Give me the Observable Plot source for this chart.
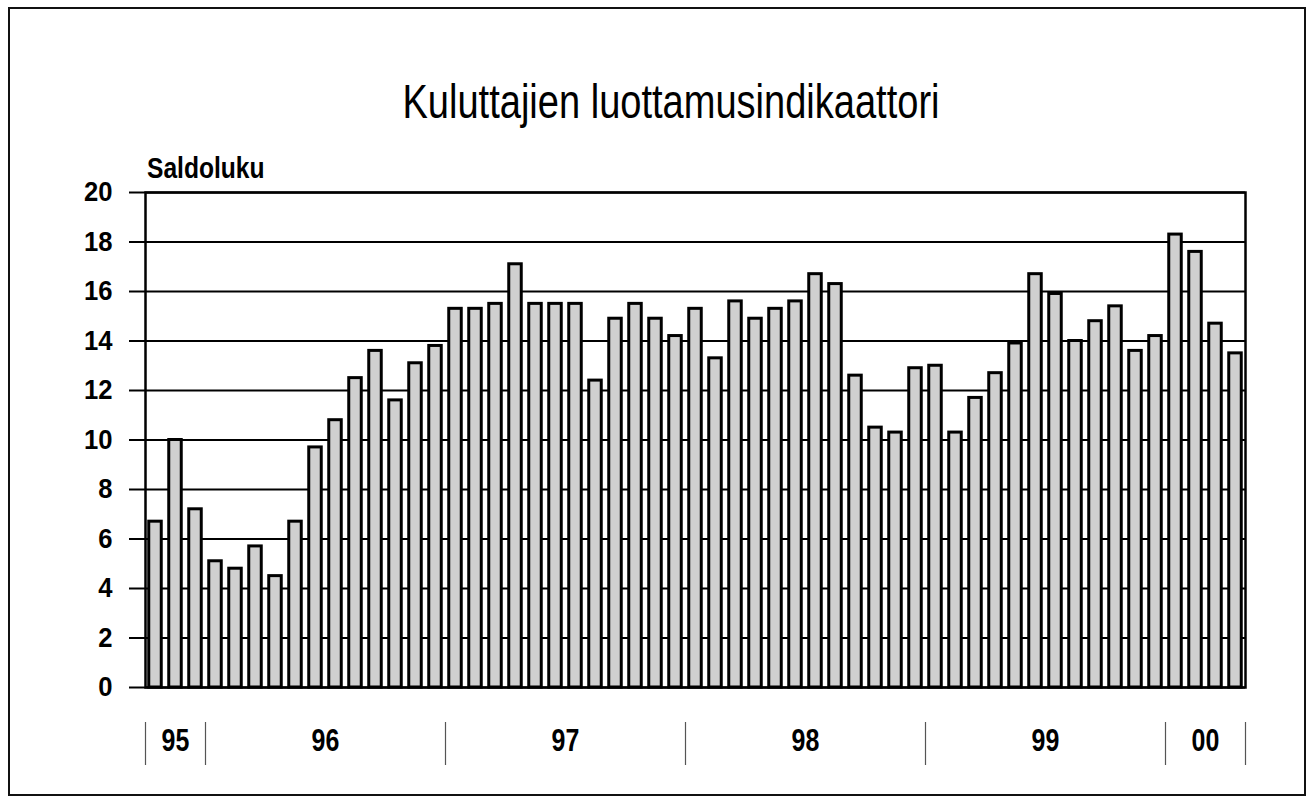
<!DOCTYPE html>
<html>
<head>
<meta charset="utf-8">
<script src="https://cdn.jsdelivr.net/npm/d3@7"></script>
<script src="https://cdn.jsdelivr.net/npm/@observablehq/plot@0.6"></script>
<style>
  html, body { margin: 0; padding: 0; background: #fff; }
  #wrap { position: relative; width: 1314px; height: 797px; overflow: hidden; }
  #frame { position: absolute; left: 8px; top: 7px; width: 1298px; height: 789px; border: 2px solid #111; box-sizing: border-box; }
  .txt { font-family: "Liberation Sans", Arial, sans-serif; color: #000; white-space: nowrap; }
  #title { position: absolute; left: 0; top: 77px; font-size: 49px; line-height: 1; transform-origin: left top; }
  #ylabel { position: absolute; left: 147px; top: 153px; font-size: 30px; font-weight: bold; line-height: 1; transform: scaleX(0.82); transform-origin: left top; }
  #chart { position: absolute; left: 0; top: 0; }
</style>
</head>
<body>
<div id="wrap">
  <div id="frame"></div>
  <div id="title" class="txt">Kuluttajien luottamusindikaattori</div>
  <div id="ylabel" class="txt">Saldoluku</div>
  <div id="chart"></div>
</div>
<script>
// Monthly consumer confidence balance, Oct 1995 – Apr 2000
const startYear = 1995;
const startMonth = 10;
const values = [
  6.7, 10.0, 7.2,
  5.1, 4.8, 5.7, 4.5, 6.7, 9.7, 10.8, 12.5, 13.6, 11.6, 13.1, 13.8,
  15.3, 15.3, 15.5, 17.1, 15.5, 15.5, 15.5, 12.4, 14.9, 15.5, 14.9, 14.2,
  15.3, 13.3, 15.6, 14.9, 15.3, 15.6, 16.7, 16.3, 12.6, 10.5, 10.3, 12.9,
  13.0, 10.3, 11.7, 12.7, 13.9, 16.7, 15.9, 14.0, 14.8, 15.4, 13.6, 14.2,
  18.3, 17.6, 14.7, 13.5
];
const yearLabels = ["95", "96", "97", "98", "99", "00"];
const yTicks = [0, 2, 4, 6, 8, 10, 12, 14, 16, 18, 20];

const rows = values.map((v, i) => {
  const m = startMonth - 1 + i;
  return { i, v, year: startYear + Math.floor(m / 12) };
});
const years = d3.groups(rows, d => d.year).map(([year, rs], k) => ({
  label: yearLabels[k],
  start: d3.min(rs, d => d.i),
  end: d3.max(rs, d => d.i) + 1
}));
const boundaries = [...years.map(y => y.start), years[years.length - 1].end];

const font = '"Liberation Sans", Arial, sans-serif';

const chart = Plot.plot({
  width: 1314,
  height: 797,
  marginLeft: 145,
  marginRight: 69,
  marginTop: 192,
  marginBottom: 110,
  style: { fontFamily: font, fontSize: "26px", fontWeight: "bold", background: "transparent", color: "#000", overflow: "visible" },
  x: { domain: [0, values.length], axis: null },
  y: { domain: [0, 20], axis: null },
  marks: [
    Plot.ruleY(yTicks, { stroke: "#000", strokeWidth: 2 }),
    // y tick marks outside the frame
    Plot.ruleY(yTicks, { stroke: "#000", strokeWidth: 2, insetRight: 1084, dx: -16 }),
    Plot.rectY(rows, { x1: "i", x2: d => d.i + 1, y: "v", insetLeft: 3.75, insetRight: 3.75, fill: "#d0d0d0", stroke: "#000", strokeWidth: 3 }),
    Plot.frame({ stroke: "#000", strokeWidth: 2.5 }),
    Plot.text(yTicks, { y: d => d, text: d => String(d), frameAnchor: "left", textAnchor: "end", dx: -33, fontSize: 27, fontWeight: "bold", fill: "#000" }),
    Plot.ruleX(boundaries, { x: d => d, stroke: "#555", strokeWidth: 1.2, insetTop: 452, dy: 78 }),
    Plot.text(years, { x: d => (d.start + d.end) / 2, text: "label", frameAnchor: "bottom", dy: 63, fontSize: 32, fontWeight: "bold", fill: "#000" })
  ]
});
document.getElementById("chart").appendChild(chart);

// condense text horizontally about its own anchor point (x only)
function condense(selection, sx) {
  selection.each(function () {
    const el = this;
    const xa = parseFloat(el.getAttribute("x"));
    const x = Number.isFinite(xa) ? xa : 0;
    const t = el.getAttribute("transform") || "";
    el.setAttribute("transform", `${t} translate(${x},0) scale(${sx},1) translate(${-x},0)`.trim());
  });
}
const textGroups = d3.select(chart).selectAll('g[aria-label="text"]').nodes();
condense(d3.select(textGroups[0]).selectAll("text"), 0.95);
condense(d3.select(textGroups[1]).selectAll("text"), 0.78);

// fit title width to the reference's span and centre it
const title = document.getElementById("title");
const w = title.getBoundingClientRect().width;
const targetW = 537, centre = 671;
title.style.transform = `translate(${centre - targetW / 2}px, 0) scaleX(${targetW / w})`;
</script>
</body>
</html>
